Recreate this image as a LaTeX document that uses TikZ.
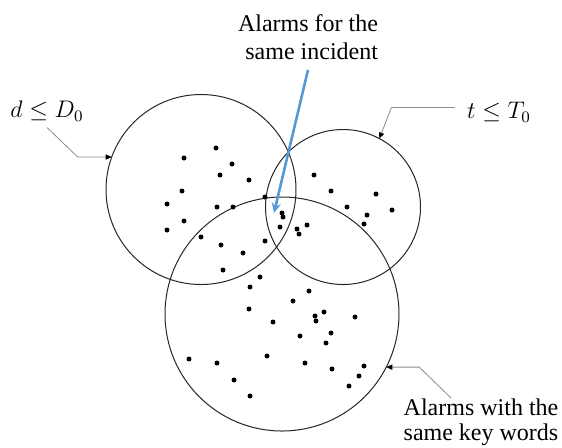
\documentclass[tikz,border=0pt]{standalone}
\usepackage{fontspec}
\setmainfont{Liberation Serif}
\usepackage{tikz}
\usetikzlibrary{arrows.meta}
\definecolor{alarmblue}{RGB}{84,152,214}
\definecolor{leadergray}{RGB}{140,140,140}

\begin{document}
\begin{tikzpicture}[x=0.5pt,y=-0.5pt,>=Stealth,
    ring/.style={circle,draw=black!85,line width=0.5pt,inner sep=0pt,outer sep=0pt},
    lbl/.style={inner sep=0pt,font=\fontsize{12}{14}\selectfont},
    leader/.style={draw=leadergray,line width=0.4pt,{Triangle[length=3pt,width=2.6pt,color=black]}-},
    alarm/.style={fill=black}]
    \useasboundingbox (0,0) rectangle (562,447);

    % circles
    \node[ring,minimum size=95pt] (dist) at (201,189.5) {};
    \node[ring,minimum size=77.5pt] (time) at (343,207) {};
    \node[ring,minimum size=117pt] (words) at (282,314) {};

    % alarms
    \foreach \p in {(216,148),(184,158),(232,164),(220,175),(249,180),(182,191),
        (314,175),(331,191),(376,194),(167,204),(217,207),(233,207),(265,197),
        (184,221),(167,230),(201,237),(221,245),(243,253),(223,270),
        (265,241),(260,277),(250,287),(282,213),(283,217),(280,227),
        (297,229),(299,234),(307,225),(347,207),(367,215),(364,224),(392,210),
        (309,291),(293,301),(249,309),(273,322),(315,316),(316,321),(324,312),
        (355,317),(300,336),(331,333),(326,343),(189,359),(217,363),(267,356),
        (305,363),(332,369),(364,366),(359,376),(349,386),(234,380),(250,396)}
        \fill[alarm] \p circle[radius=1.25pt];

    % labels
    \node[lbl,align=right,anchor=north] (incident) at (308,14) {Alarms for the\\same incident};
    \node[lbl,align=center,anchor=north,font=\fontsize{12}{12.5}\selectfont] (keywords) at (481,398) {Alarms with the\\same key words};
    \node[lbl] (dlbl) at (47,111) {$d \leq D_0$};
    \node[lbl] (tlbl) at (499,112) {$t \leq T_0$};

    % pointers
    \coordinate (hit) at (274,213);
    \draw[alarmblue,line width=1.3pt,-{Stealth[length=5pt,width=4.5pt]}]
        ([yshift=-5pt]incident.south) -- (hit);
    \draw[leader] (dist.160) -- ++(-34,0) -- ([yshift=-3pt]dlbl.south);
    \draw[leader] (time.62) -- ++(12,-31) coordinate (tbend)
        -- ([xshift=-6pt]tlbl.west |- tbend);
    \draw[leader] (words.333) -- ++(33,0) -- ([xshift=-15pt]keywords.north);
\end{tikzpicture}
\end{document}
